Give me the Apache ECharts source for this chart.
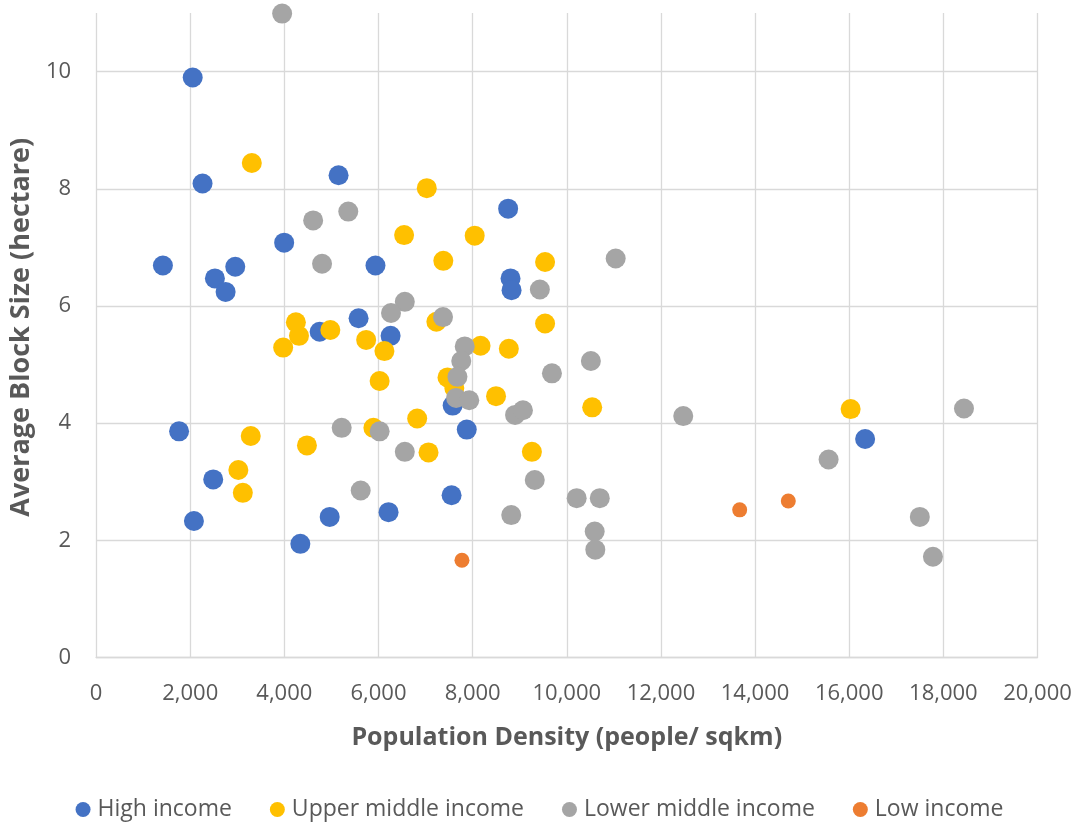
<!DOCTYPE html>
<html>
<head>
<meta charset="utf-8">
<title>Population Density vs Average Block Size</title>
<script src="https://cdn.jsdelivr.net/npm/echarts@6/dist/echarts.min.js"></script>
<style>
  html, body { margin: 0; padding: 0; background: #ffffff; }
  #chart { width: 1079px; height: 822px; }
</style>
</head>
<body>
<div id="chart"></div>
<script>
// Series names shown in the legend
const seriesNames = ['High income', 'Upper middle income', 'Lower middle income', 'Low income'];

// [population density (people/sqkm), average block size (hectare)]
const highIncome = [
  [2053, 9.90], [2262, 8.09], [1420, 6.69], [2525, 6.47], [2957, 6.67],
  [2752, 6.24], [3996, 7.08], [5152, 8.23], [5936, 6.69], [8754, 7.66],
  [8805, 6.47], [8827, 6.27], [5577, 5.79], [4750, 5.56], [6257, 5.49],
  [1764, 3.86], [2489, 3.04], [2079, 2.33], [4340, 1.94], [4963, 2.40],
  [6214, 2.48], [7553, 2.77], [7875, 3.89], [7575, 4.30], [16338, 3.73]
];

const upperMiddleIncome = [
  [3309, 8.44], [7026, 8.01], [6544, 7.21], [8044, 7.20], [7377, 6.77],
  [9539, 6.75], [4245, 5.72], [4311, 5.49], [4977, 5.59], [3975, 5.29],
  [5738, 5.42], [6126, 5.23], [6024, 4.72], [7230, 5.73], [8168, 5.32],
  [8769, 5.27], [9539, 5.70], [7466, 4.78], [7611, 4.60], [8497, 4.46],
  [10540, 4.27], [6822, 4.08], [5892, 3.92], [3286, 3.78], [4480, 3.62],
  [7063, 3.50], [9259, 3.51], [3023, 3.20], [3118, 2.81], [16030, 4.24]
];

const lowerMiddleIncome = [
  [3953, 10.99], [4612, 7.46], [5358, 7.61], [4801, 6.72], [11039, 6.81],
  [9428, 6.28], [6559, 6.07], [6266, 5.88], [7371, 5.81], [7832, 5.31],
  [7758, 5.06], [7677, 4.79], [7649, 4.43], [7928, 4.39], [8901, 4.14],
  [9069, 4.22], [9685, 4.85], [10512, 5.06], [12474, 4.12], [5218, 3.92],
  [6024, 3.86], [6559, 3.51], [5622, 2.85], [8820, 2.43], [9320, 3.03],
  [10210, 2.72], [10701, 2.72], [10593, 2.15], [10606, 1.84], [15562, 3.38],
  [17500, 2.40], [17779, 1.72], [18438, 4.25]
];

const lowIncome = [
  [7773, 1.66], [13673, 2.52], [14706, 2.67]
];

const seriesColors = ['#4472C4', '#FFC000', '#A5A5A5', '#ED7D31'];
const markerSizes = [20, 20, 20, 15];
const seriesData = [highIncome, upperMiddleIncome, lowerMiddleIncome, lowIncome];

// Axis settings
const xAxisTitle = 'Population Density (people/ sqkm)';
const yAxisTitle = 'Average Block Size (hectare)';
const xRange = { min: 0, max: 20000, step: 2000 };
const yRange = { min: 0, max: 11, step: 2 };

const textColor = '#595959';
const gridColor = '#D9D9D9';
const fontFamily = '"Open Sans", "Noto Sans", sans-serif';

const chart = echarts.init(document.getElementById('chart'), null, { renderer: 'canvas' });

const formatThousands = v => Number(v).toLocaleString('en-US');

chart.setOption({
  animation: false,
  backgroundColor: '#ffffff',
  textStyle: { fontFamily: fontFamily },
  grid: { left: 96, right: 41.5, top: 13, bottom: 164.5, containLabel: false },
  legend: {
    data: seriesNames,
    left: 'center',
    top: 793,
    icon: 'circle',
    itemWidth: 15,
    itemHeight: 15,
    itemGap: 38,
    textStyle: { color: textColor, fontSize: 23, fontFamily: fontFamily, padding: [0, 0, 0, 2] }
  },
  xAxis: {
    type: 'value',
    min: xRange.min,
    max: xRange.max,
    interval: xRange.step,
    name: xAxisTitle,
    nameLocation: 'middle',
    nameGap: 68,
    nameTextStyle: { color: textColor, fontSize: 25, fontWeight: 'bold', fontFamily: fontFamily },
    axisLine: { show: true, lineStyle: { color: gridColor, width: 1.3 } },
    axisTick: { show: false },
    axisLabel: { color: textColor, fontSize: 22, margin: 25, formatter: formatThousands },
    splitLine: { show: true, lineStyle: { color: gridColor, width: 1.3 } }
  },
  yAxis: {
    type: 'value',
    min: yRange.min,
    max: yRange.max,
    interval: yRange.step,
    name: yAxisTitle,
    nameLocation: 'middle',
    nameGap: 58,
    nameRotate: 90,
    nameTextStyle: {
      color: textColor, fontSize: 27, fontWeight: 'bold', fontFamily: fontFamily,
      padding: [0, 0, 0, 16]
    },
    axisLine: { show: false },
    axisTick: { show: false },
    axisLabel: { color: textColor, fontSize: 22, margin: 25, showMaxLabel: false },
    splitLine: { show: true, showMaxLine: false, lineStyle: { color: gridColor, width: 1.3 } }
  },
  series: seriesNames.map((name, i) => ({
    name: name,
    type: 'scatter',
    data: seriesData[i],
    symbol: 'circle',
    symbolSize: markerSizes[i],
    itemStyle: { color: seriesColors[i], opacity: 1 },
    emphasis: { disabled: true },
    z: 2 + i
  }))
});
</script>
</body>
</html>
